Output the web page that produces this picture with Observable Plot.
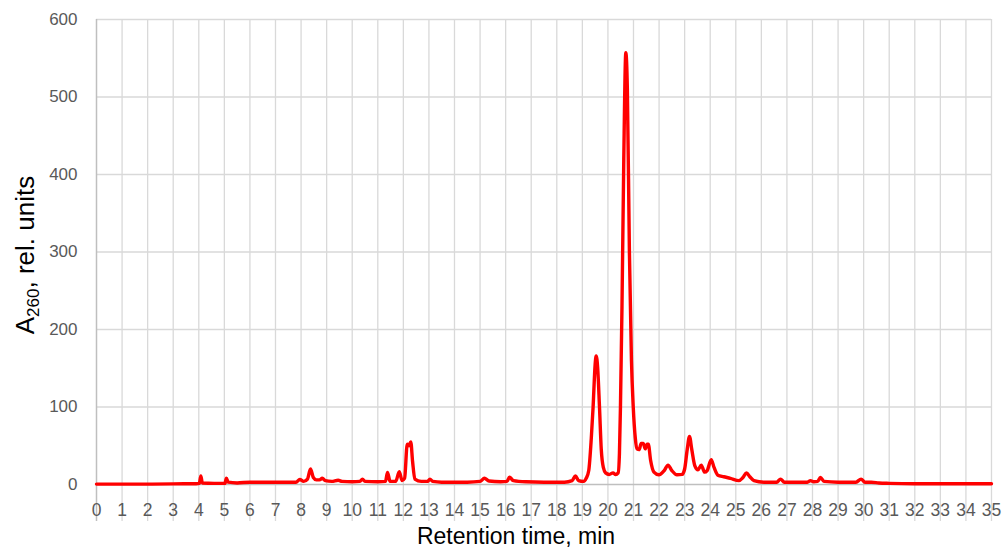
<!DOCTYPE html>
<html>
<head>
<meta charset="utf-8">
<script src="https://cdn.jsdelivr.net/npm/d3@7"></script>
<script src="https://cdn.jsdelivr.net/npm/@observablehq/plot@0.6"></script>
<style>
  html, body { margin: 0; padding: 0; background: #fff; }
  #chart svg { display: block; }
</style>
</head>
<body>
<div id="chart"></div>
<script>
// Retention time (min) and absorbance A260 (rel. units)
const times = [
  0, 1, 2, 3, 3.9, 4.02, 4.08, 4.14, 4.6, 5.02, 5.08, 5.15, 5.5, 6.0, 6.5, 7.0, 7.5, 7.8, 7.95, 8.1,
  8.25, 8.37, 8.48, 8.6, 8.72, 8.83, 8.95, 9.2, 9.45, 9.6, 10.0, 10.3, 10.4, 10.5, 11.0, 11.3, 11.38, 11.48, 11.7, 11.84,
  11.95, 12.05, 12.15, 12.22, 12.29, 12.36, 12.45, 12.7, 12.95, 13.04, 13.15, 13.5, 14.0, 14.5, 15.0, 15.17, 15.35, 15.8, 16.05, 16.15,
  16.3, 16.8, 17.5, 18.3, 18.6, 18.73, 18.85, 19.05, 19.15, 19.25, 19.35, 19.42, 19.5, 19.54, 19.6, 19.67, 19.74, 19.82, 19.91, 20.05,
  20.2, 20.3, 20.4, 20.45, 20.49, 20.55, 20.62, 20.7, 20.76, 20.84, 20.92, 20.99, 21.07, 21.14, 21.22, 21.3, 21.38, 21.46, 21.53, 21.58,
  21.67, 21.8, 21.99, 22.2, 22.35, 22.5, 22.7, 22.9, 23.0, 23.1, 23.19, 23.28, 23.4, 23.52, 23.65, 23.78, 23.88, 24.04, 24.15, 24.3,
  24.53, 24.79, 25.12, 25.28, 25.42, 25.55, 25.71, 26.1, 26.6, 26.75, 26.9, 27.5, 27.8, 27.92, 28.05, 28.2, 28.31, 28.45, 29.0, 29.7,
  29.9, 30.05, 30.3, 30.6, 31.0, 32, 33, 34, 35
];
const absorbance = [
  0.5, 0.5, 0.5, 0.8, 1, 1.5, 11, 2, 1.5, 1.5, 8, 3, 2, 3, 3, 3, 3, 3, 6.5, 4,
  7, 20, 9, 6, 6, 8, 5, 4, 5.5, 4, 3.5, 4, 7, 4, 3.5, 4, 15.5, 4, 4, 16.5,
  5, 8, 52, 50, 55, 30, 7, 4, 4, 7, 4, 3, 3, 3, 4, 8, 4.5, 3.5, 4, 9.5,
  5, 3.5, 3, 3, 5, 11, 5, 4, 8, 18, 60, 100, 155, 166, 150, 100, 45, 22, 15, 13,
  15, 13, 15, 40, 100, 230, 420, 557, 510, 300, 160, 100, 60, 46, 45, 53, 53, 46, 52, 52,
  31, 16, 12.5, 18, 25, 18, 12.5, 13, 20, 45, 62, 45, 24, 19, 25, 16, 18, 32, 22, 12,
  10, 8, 5, 9, 15, 10, 5, 3, 3, 7, 3, 3, 3, 5, 3.5, 4, 9, 4, 3, 3,
  7, 3, 3, 2, 1.5, 1, 1, 1, 1
];
const xTicks = [0,1,2,3,4,5,6,7,8,9,10,11,12,13,14,15,16,17,18,19,20,21,22,23,24,25,26,27,28,29,30,31,32,33,34,35];
const yTicks = [0, 100, 200, 300, 400, 500, 600];
const xTitle = "Retention time, min";
const yTitleMain = "A";
const yTitleSub = "260";
const yTitleRest = ", rel. units";

const data = times.map((t, i) => ({t, a: absorbance[i]}));

const font = "'Liberation Sans', Arial, sans-serif";

const plot = Plot.plot({
  width: 1005,
  height: 558,
  marginLeft: 96,
  marginRight: 14,
  marginTop: 19,
  marginBottom: 74,
  style: {fontFamily: font, background: "#fff", overflow: "visible"},
  x: {domain: [0, 35]},
  y: {domain: [0, 600]},
  marks: [
    Plot.ruleY(yTicks.filter(d => d > 0), {y: d => d, stroke: "#d9d9d9", strokeWidth: 1.3}),
    Plot.ruleX(xTicks.filter(d => d > 0), {x: d => d, stroke: "#d9d9d9", strokeWidth: 1.3, insetBottom: -37}),
    Plot.ruleX([0], {x: d => d, stroke: "#bfbfbf", strokeWidth: 1.5, insetBottom: -37}),
    Plot.ruleY([0], {y: d => d, stroke: "#bfbfbf", strokeWidth: 1.5}),
    Plot.line(data, {x: "t", y: "a", stroke: "#ff0000", strokeWidth: 3.4, curve: "monotone-x"}),
    Plot.axisX({ticks: xTicks, tickSize: 0, tickPadding: 19, fontSize: 17.5, fill: "#595959", label: null, tickFormat: d => String(d)}),
    Plot.axisY({ticks: yTicks, tickSize: 0, tickPadding: 19, fontSize: 17, fill: "#595959", label: null, tickFormat: d => String(d)}),
    Plot.text([xTitle], {text: d => d, frameAnchor: "bottom", dx: -28, dy: 59, fontSize: 23, fill: "#000", textAnchor: "middle"})
  ]
});

document.getElementById("chart").appendChild(plot);

// y-axis title with subscript
const svg = d3.select(plot);
const yt = svg.append("text")
  .attr("transform", "translate(34,255) rotate(-90)")
  .attr("text-anchor", "middle")
  .attr("font-family", font)
  .attr("font-size", 26)
  .attr("fill", "#000");
yt.append("tspan").text(yTitleMain);
yt.append("tspan").attr("font-size", 17).attr("dy", 5).text(yTitleSub);
yt.append("tspan").attr("dy", -5).text(yTitleRest);
</script>
</body>
</html>
